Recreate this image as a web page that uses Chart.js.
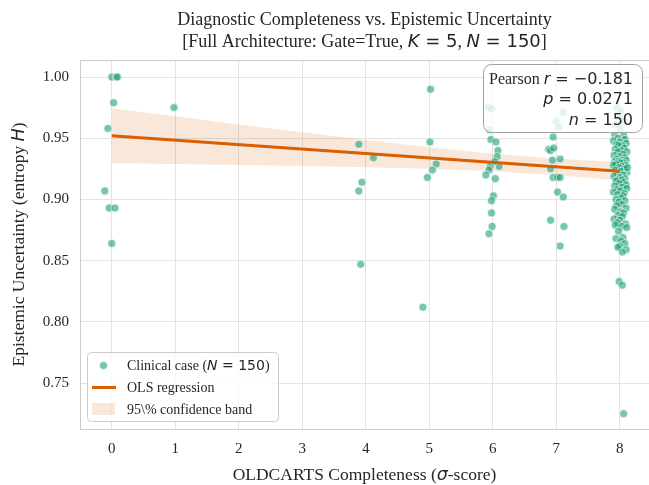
<!DOCTYPE html>
<html><head><meta charset="utf-8">
<script src="https://cdn.jsdelivr.net/npm/chart.js@4.4.1/dist/chart.umd.min.js"></script>
<style>html,body{margin:0;padding:0;background:#fff;}#wrap{width:649px;height:485px;}</style>
</head><body><div id="wrap"><canvas id="c" width="649" height="485"></canvas></div>
<script>
// ---- data ----
const caseX = [
  0.00,0.07,0.09,0.03,-0.06,-0.11,-0.04,0.05,0.00,
  0.98,
  3.89,4.12,3.94,3.89,3.92,
  5.02,5.01,5.11,5.05,4.97,4.90,
  5.93,5.98,5.95,5.97,6.05,6.08,6.07,5.96,6.10,5.94,5.89,6.04,6.01,5.98,5.98,5.99,5.94,6.03,
  7.11,7.00,7.04,6.95,6.88,6.91,6.96,6.94,7.06,6.91,6.95,7.02,7.06,7.02,7.11,6.91,7.12,7.06,
  7.95,8.02,7.97,8.05,7.93,8.01,
  7.92,8.06,7.97,8.08,7.90,8.00,8.10,7.95,8.04,7.98,
  8.07,7.93,8.02,7.97,8.11,8.05,7.91,8.00,8.08,7.95,8.03,8.10,7.92,7.98,8.06,8.01,
  7.94,8.09,7.90,8.04,7.99,8.07,7.93,8.02,8.11,7.96,8.05,7.91,8.00,8.08,7.97,8.03,7.94,8.12,
  8.06,7.99,8.10,7.92,8.04,8.11,7.96,8.01,7.90,8.07,7.97,8.05,8.02,7.94,
  8.08,7.99,8.03,7.95,8.10,7.92,8.01,8.06,7.97,8.04,
  7.91,8.00,7.96,8.09,7.93,8.03,8.11,7.98,
  8.05,7.94,8.02,8.08,8.00,7.97,8.10,8.04,
  7.99,8.04,8.06
];
const caseY = [
  1.000,1.000,1.000,0.979,0.958,0.907,0.893,0.893,0.864,
  0.975,
  0.945,0.934,0.914,0.907,0.847,
  0.990,0.947,0.929,0.924,0.918,0.812,
  0.975,0.974,0.957,0.949,0.947,0.940,0.935,0.927,0.927,0.924,0.920,0.917,0.903,0.899,0.889,0.878,0.872,0.931,
  0.971,0.964,0.959,0.951,0.941,0.940,0.942,0.932,0.933,0.925,0.918,0.918,0.918,0.906,0.902,0.883,0.878,0.862,
  0.975,0.972,0.968,0.965,0.961,0.958,
  0.953,0.952,0.950,0.949,0.948,0.947,0.946,0.945,0.944,0.944,
  0.942,0.941,0.940,0.939,0.939,0.937,0.936,0.935,0.934,0.933,0.932,0.932,0.931,0.931,0.930,0.930,
  0.929,0.928,0.928,0.927,0.926,0.925,0.924,0.923,0.922,0.921,0.920,0.919,0.918,0.917,0.916,0.916,0.915,0.926,
  0.914,0.913,0.912,0.911,0.910,0.909,0.908,0.907,0.906,0.905,0.904,0.903,0.901,0.900,
  0.899,0.898,0.896,0.895,0.893,0.892,0.890,0.889,0.887,0.886,
  0.884,0.883,0.881,0.880,0.879,0.878,0.877,0.874,
  0.869,0.868,0.866,0.864,0.862,0.861,0.859,0.857,
  0.833,0.830,0.725
];
const fitX = [0, 8];
const fitY = [0.952, 0.923];
const bandX = [0, 1, 2, 3, 4, 5, 6, 7, 8];
const bandUpper = [0.9745, 0.9679, 0.9613, 0.9549, 0.9486, 0.9427, 0.9373, 0.9332, 0.9305];
const bandLower = [0.9295, 0.9289, 0.9281, 0.9273, 0.9264, 0.9251, 0.9231, 0.9200, 0.9155];
const xTickValues = [0, 1, 2, 3, 4, 5, 6, 7, 8];
const yTickValues = [0.75, 0.80, 0.85, 0.90, 0.95, 1.00];
const statLines = [["Pearson ", "r", " = \u22120.181"], ["", "p", " = 0.0271"], ["", "n", " = 150"]];

// ---- styles ----
const SERIF = '"Liberation Serif","Times New Roman",serif';
const SANS = '"DejaVu Sans",sans-serif';
const TXT = '#262626';
const PT_COLOR = 'rgba(27,158,119,0.6)';
const LINE_COLOR = '#d95f02';
const BAND_COLOR = 'rgba(217,95,2,0.15)';

function sf(size){ return size + 'px ' + SERIF; }
function sn(size){ return size + 'px ' + SANS; }
function si(size){ return 'italic ' + size + 'px ' + SANS; }

function drawRich(ctx, parts, x, y, align){
  let w = 0;
  parts.forEach(p => { ctx.font = p.f; p.w = ctx.measureText(p.t).width; w += p.w; });
  let sx = align === 'center' ? x - w/2 : (align === 'right' ? x - w : x);
  ctx.textAlign = 'left'; ctx.textBaseline = 'alphabetic';
  parts.forEach(p => { ctx.font = p.f; ctx.fillText(p.t, sx, y); sx += p.w; });
}
function roundRect(ctx, x, y, w, h, r){
  ctx.beginPath();
  ctx.moveTo(x + r, y); ctx.lineTo(x + w - r, y); ctx.arcTo(x + w, y, x + w, y + r, r);
  ctx.lineTo(x + w, y + h - r); ctx.arcTo(x + w, y + h, x + w - r, y + h, r);
  ctx.lineTo(x + r, y + h); ctx.arcTo(x, y + h, x, y + h - r, r);
  ctx.lineTo(x, y + r); ctx.arcTo(x, y, x + r, y, r); ctx.closePath();
}

const decor = {
  id: 'decor',
  afterDraw(chart){
    const ctx = chart.ctx, a = chart.chartArea;
    ctx.save();
    // top spine
    ctx.strokeStyle = '#cccccc'; ctx.lineWidth = 1;
    ctx.beginPath(); ctx.moveTo(a.left, a.top + 0.5); ctx.lineTo(a.right, a.top + 0.5); ctx.stroke();
    ctx.fillStyle = TXT;
    // title
    const cx = (a.left + a.right) / 2;
    drawRich(ctx, [{t:'Diagnostic Completeness vs. Epistemic Uncertainty', f:sf(18)}], cx, 25, 'center');
    drawRich(ctx, [
      {t:'[Full Architecture: Gate=True, ', f:sf(18)}, {t:'K', f:si(18)}, {t:' = 5', f:sn(18)},
      {t:', ', f:sf(18)}, {t:'N', f:si(18)}, {t:' = 150', f:sn(18)}, {t:']', f:sf(18)}
    ], cx, 47, 'center');
    // x label
    drawRich(ctx, [{t:'OLDCARTS Completeness (', f:sf(17.5)}, {t:'\u03c3', f:si(17.5)}, {t:'-score)', f:sf(17.5)}], cx, 480, 'center');
    // y label
    ctx.save();
    ctx.translate(24, (a.top + a.bottom) / 2); ctx.rotate(-Math.PI/2);
    drawRich(ctx, [{t:'Epistemic Uncertainty (entropy ', f:sf(17.5)}, {t:'H', f:si(17.5)}, {t:')', f:sf(17.5)}], 0, 0, 'center');
    ctx.restore();
    // stats box
    roundRect(ctx, 483.5, 64.5, 159, 68, 8);
    ctx.fillStyle = 'rgba(255,255,255,0.8)'; ctx.fill();
    ctx.strokeStyle = '#a0a0a0'; ctx.lineWidth = 1; ctx.stroke();
    ctx.fillStyle = TXT;
    const base = [83.5, 104, 124.5];
    statLines.forEach((ln, i) => {
      const parts = [];
      if (ln[0]) parts.push({t:ln[0], f:sf(16)});
      parts.push({t:ln[1], f:si(16)}); parts.push({t:ln[2], f:sn(16)});
      drawRich(ctx, parts, 633, base[i], 'right');
    });
    // legend
    roundRect(ctx, 87.5, 352.5, 191, 69, 4);
    ctx.fillStyle = 'rgba(255,255,255,0.8)'; ctx.fill();
    ctx.strokeStyle = '#cccccc'; ctx.stroke();
    ctx.fillStyle = PT_COLOR; ctx.beginPath(); ctx.arc(103.5, 365.5, 4, 0, Math.PI*2); ctx.fill();
    ctx.strokeStyle = '#ffffff'; ctx.lineWidth = 0.6; ctx.stroke();
    ctx.strokeStyle = LINE_COLOR; ctx.lineWidth = 3; ctx.beginPath(); ctx.moveTo(92, 387.5); ctx.lineTo(116, 387.5); ctx.stroke();
    ctx.fillStyle = BAND_COLOR; ctx.fillRect(92, 403, 23, 12);
    ctx.fillStyle = TXT;
    drawRich(ctx, [{t:'Clinical case (', f:sf(14)}, {t:'N', f:si(14)}, {t:' = 150', f:sn(14)}, {t:')', f:sf(14)}], 127, 370, 'left');
    drawRich(ctx, [{t:'OLS regression', f:sf(14)}], 127, 392, 'left');
    drawRich(ctx, [{t:'95\\% confidence band', f:sf(14)}], 127, 414, 'left');
    ctx.restore();
  }
};

const scatterData = caseX.map((x, i) => ({x, y: caseY[i]}));
const fitData = fitX.map((x, i) => ({x, y: fitY[i]}));
const upperData = bandX.map((x, i) => ({x, y: bandUpper[i]}));
const lowerData = bandX.map((x, i) => ({x, y: bandLower[i]}));

new Chart(document.getElementById('c'), {
  type: 'scatter',
  data: {
    datasets: [
      {label: 'OLS regression', type: 'line', data: fitData, borderColor: LINE_COLOR, borderWidth: 3,
       pointRadius: 0, fill: false, showLine: true, order: 0},
      {label: 'Clinical case', data: scatterData, backgroundColor: PT_COLOR, borderColor: '#ffffff',
       borderWidth: 0.6, pointRadius: 4, order: 1},
      {label: '95% band upper', type: 'line', data: upperData, borderWidth: 0, borderColor: 'rgba(0,0,0,0)',
       pointRadius: 0, fill: '+1', backgroundColor: BAND_COLOR, showLine: true, order: 2},
      {label: '95% band lower', type: 'line', data: lowerData, borderWidth: 0, borderColor: 'rgba(0,0,0,0)',
       pointRadius: 0, fill: false, showLine: true, order: 3}
    ]
  },
  options: {
    responsive: false, animation: false, devicePixelRatio: 1,
    layout: {autoPadding: false, padding: {top: 60, right: 0, left: 0, bottom: 0}},
    plugins: {legend: {display: false}, tooltip: {enabled: false}, title: {display: false}},
    scales: {
      x: {
        type: 'linear', min: -0.5, max: 8.46,
        afterBuildTicks: s => { s.ticks = xTickValues.map(v => ({value: v})); },
        afterFit: s => { s.height = 56; s.paddingLeft = 0; s.paddingRight = 0; },
        grid: {color: '#e3e3e3', drawTicks: false},
        border: {color: '#cccccc'},
        ticks: {padding: 11, color: TXT, font: {family: SERIF, size: 15}, callback: v => String(v)}
      },
      y: {
        type: 'linear', min: 0.7125, max: 1.0139,
        afterBuildTicks: s => { s.ticks = yTickValues.map(v => ({value: v})); },
        afterFit: s => { s.width = 80; s.paddingTop = 0; s.paddingBottom = 0; },
        grid: {color: '#e3e3e3', drawTicks: false},
        border: {color: '#cccccc'},
        ticks: {padding: 11, color: TXT, font: {family: SERIF, size: 15}, callback: v => v.toFixed(2)}
      }
    }
  },
  plugins: [decor]
});
</script></body></html>
